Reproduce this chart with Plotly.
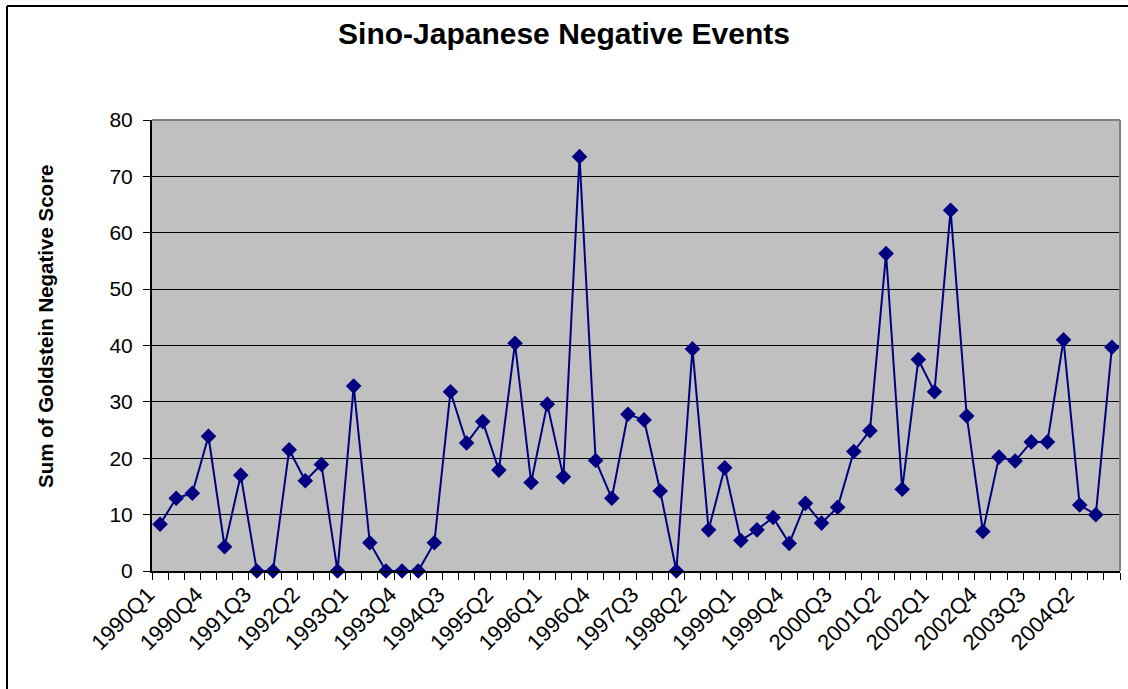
import plotly.graph_objects as go

quarters = [f"{y}Q{q}" for y in range(1990, 2005) for q in range(1, 5)]
scores = [8.3, 12.9, 13.8, 23.9, 4.3, 17.0, 0, 0, 21.5, 16.0,
          18.9, 0, 32.8, 5.0, 0, 0, 0, 5.0, 31.8, 22.7,
          26.5, 17.9, 40.4, 15.7, 29.6, 16.7, 73.5, 19.6, 12.9, 27.8,
          26.8, 14.2, 0, 39.4, 7.3, 18.3, 5.4, 7.3, 9.5, 4.9,
          12.0, 8.5, 11.3, 21.2, 24.9, 56.3, 14.5, 37.5, 31.8, 64.0,
          27.5, 7.0, 20.2, 19.5, 22.9, 22.9, 41.0, 11.7, 10.0, 39.7]
idx = list(range(len(quarters)))
label_idx = idx[::3]
label_txt = quarters[::3]

L, R, T, B = 152, 8, 120, 118
W, H = 1128, 689
pw, ph = W - L - R, H - T - B

def px_x(p):
    return (p - L) / pw

def px_y(p):
    return (H - B - p) / ph

fig = go.Figure()
fig.add_trace(go.Scatter(
    x=idx, y=scores, mode="lines+markers",
    line=dict(color="#000080", width=2),
    marker=dict(symbol="diamond", size=12, color="#000080"),
    cliponaxis=False, showlegend=False,
))

font = "Liberation Sans, Arial, sans-serif"
fig.update_layout(
    width=W, height=H,
    margin=dict(l=L, r=R, t=T, b=B),
    paper_bgcolor="white", plot_bgcolor="#C0C0C0",
    font=dict(family=font, color="black"),
    title=dict(text="<b>Sino-Japanese Negative Events</b>", x=px_x(564), xref="paper",
               xanchor="center", y=1 - 33 / H, yanchor="middle",
               font=dict(size=30, family=font, color="black")),
)
fig.update_xaxes(
    range=[-0.5, len(quarters) - 0.5],
    tickmode="array", tickvals=label_idx, ticktext=label_txt,
    tickangle=-45, tickfont=dict(size=22), ticks="",
    ticklabelstandoff=0, ticklabelshift=-12,
    minor=dict(tickmode="linear", tick0=-0.5, dtick=1, ticks="outside",
               ticklen=7, tickcolor="black", tickwidth=1, showgrid=False),
    showgrid=False, zeroline=False,
    showline=True, linecolor="black", linewidth=2,
)
fig.update_yaxes(
    range=[0, 80], tickmode="linear", tick0=0, dtick=10,
    tickfont=dict(size=21), ticks="outside", ticklen=7, tickcolor="black",
    ticklabelstandoff=6,
    showgrid=True, gridcolor="black", gridwidth=1, zeroline=False,
    showline=True, linecolor="black", linewidth=2,
)
fig.add_annotation(
    text="<b>Sum of Goldstein Negative Score</b>", textangle=-90,
    xref="paper", yref="paper", x=px_x(45), y=px_y(326),
    xanchor="center", yanchor="middle", showarrow=False,
    font=dict(size=20.5, family=font, color="black"),
)
fig.add_shape(type="line", xref="paper", yref="paper", x0=0, x1=1, y0=1, y1=1,
              line=dict(color="#808080", width=2))
fig.add_shape(type="line", xref="paper", yref="paper", x0=1, x1=1, y0=0, y1=1,
              line=dict(color="#808080", width=2))
# outer chart border (top and left edges; right/bottom fall outside the view)
fig.add_shape(type="line", xref="paper", yref="paper",
              x0=px_x(7), x1=px_x(1128), y0=px_y(6), y1=px_y(6),
              line=dict(color="black", width=2))
fig.add_shape(type="line", xref="paper", yref="paper",
              x0=px_x(7), x1=px_x(7), y0=px_y(6), y1=px_y(689),
              line=dict(color="black", width=2))

fig.write_html("out.html", config={"displayModeBar": False},
               post_script="document.body.style.margin='0';document.body.style.overflow='hidden';")
